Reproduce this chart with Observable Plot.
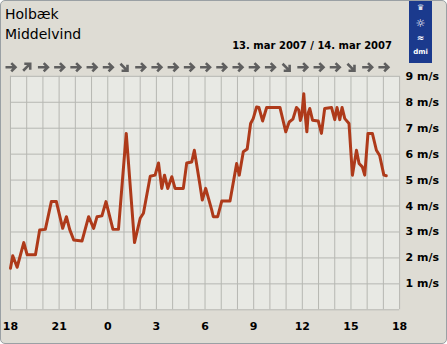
<!DOCTYPE html>
<html><head><meta charset="utf-8">
<script src="https://cdn.jsdelivr.net/npm/d3@7"></script>
<script src="https://cdn.jsdelivr.net/npm/@observablehq/plot@0.6"></script>
<style>
html,body{margin:0;padding:0;background:#ffffff;}
#card{position:relative;box-sizing:border-box;width:447px;height:344px;border:1px solid #9aa0a4;border-radius:5px;background:#dedcd4;overflow:hidden;font-family:"DejaVu Sans",Verdana,sans-serif;color:#000;}
#chart{position:absolute;left:-1px;top:-1px;}
.t{position:absolute;white-space:nowrap;}
#title1{left:4px;top:5px;font-size:14px;line-height:17px;}
#title2{left:4px;top:25px;font-size:14px;line-height:17px;}
#date{right:54px;top:39px;font-size:10px;font-weight:bold;line-height:12px;}
#logo{position:absolute;left:408px;top:-1px;width:23px;height:63px;background:#1b3a8d;color:#fff;font-weight:bold;}
#logo div{position:absolute;left:0;width:23px;text-align:center;}
</style>
</head><body>
<div id="card">
  <div id="chart"></div>
  <div class="t" id="title1">Holbæk</div>
  <div class="t" id="title2">Middelvind</div>
  <div class="t" id="date">13. mar 2007 / 14. mar 2007</div>
  <div id="logo">
    <div style="top:3px;font-size:8px;line-height:10px">♛</div>
    <div style="top:17px;font-size:11px;line-height:13px">☼</div>
    <div style="top:33px;font-size:9px;line-height:10px">≈</div>
    <div style="top:48px;font-size:7px;line-height:9px">dmi</div>
  </div>
</div>
<script>
// hours since 13 mar 18:00
const hours = [0.00,0.14,0.41,0.82,1.03,1.54,1.80,2.15,2.52,2.83,3.22,3.45,3.65,3.90,4.41,4.82,5.13,5.34,5.64,5.89,6.32,6.66,7.14,7.65,8.00,8.20,8.62,8.92,9.13,9.33,9.50,9.70,9.95,10.15,10.66,10.87,11.18,11.34,11.69,11.83,12.04,12.41,12.51,12.78,13.03,13.54,13.95,14.11,14.36,14.60,14.81,14.97,15.18,15.32,15.55,15.80,16.62,16.98,17.19,17.42,17.64,17.78,17.88,17.97,18.09,18.18,18.28,18.37,18.46,18.63,18.98,19.18,19.38,19.80,20.00,20.14,20.31,20.45,20.62,20.88,21.09,21.34,21.50,21.70,21.85,22.05,22.32,22.57,22.77,23.03,23.18];
const speed = [1.60,2.08,1.64,2.59,2.12,2.12,3.08,3.10,4.17,4.17,3.14,3.59,3.10,2.69,2.65,3.59,3.14,3.59,3.62,4.17,3.10,3.10,6.80,2.59,3.53,3.72,5.15,5.19,5.66,4.68,5.19,4.68,5.13,4.68,4.68,5.66,5.70,6.15,4.80,4.23,4.68,3.85,3.59,3.59,4.19,4.19,5.64,5.19,6.09,6.20,7.18,7.37,7.82,7.80,7.28,7.80,7.80,6.86,7.24,7.35,7.80,7.70,7.30,7.50,8.33,7.50,6.86,7.60,7.76,7.31,7.28,6.80,7.76,7.80,7.33,7.80,7.33,7.80,7.37,7.18,5.19,6.15,5.64,5.51,5.19,6.80,6.80,6.15,5.95,5.19,5.17];

// wind direction arrows, one per hour (degrees clockwise from north, pointing direction)
const dirHours = [0,1,2,3,4,5,6,7,8,9,10,11,12,13,14,15,16,17,18,19,20,21,22,23];
const dirAngle = [90,45,90,90,90,90,90,135,90,90,90,90,90,90,90,90,90,135,90,90,90,135,90,90];

const xTicks = [0,3,6,9,12,15,18,21,24];
const xTickLabels = ["18","21","0","3","6","9","12","15","18"];
const yTicks = [1,2,3,4,5,6,7,8,9];
const gridX = [0,1,2,3,4,5,6,7,8,9,10,11,12,13,14,15,16,17,18,19,20,21,22,23,24];
const gridY = [0,1,2,3,4,5,6,7,8,9];

const series = hours.map((h,i)=>({h, v: speed[i]}));
const arrows = dirHours.map((h,i)=>({h, r: dirAngle[i]}));

const fatArrow = {
  draw(ctx, l) {
    const w = l * 0.42;
    ctx.moveTo(0, 0);
    ctx.lineTo(0, -l + 1);
    ctx.moveTo(-w, w - l);
    ctx.lineTo(0, -l);
    ctx.lineTo(w, w - l);
  }
};

const chart = Plot.plot({
  width: 447, height: 344,
  marginTop: 76, marginRight: 47, marginBottom: 34, marginLeft: 10,
  style: {background: "transparent", fontFamily: "'DejaVu Sans', Verdana, sans-serif", fontSize: "11px", fontWeight: "bold", color: "#000", overflow: "visible"},
  x: {domain: [0,24], ticks: xTicks, tickFormat: d => xTickLabels[xTicks.indexOf(d)], tickSize: 0, tickPadding: 12, label: null},
  y: {domain: [0,9], axis: "right", ticks: yTicks, tickFormat: d => d + " m/s", tickSize: 0, tickPadding: 6, label: null},
  marks: [
    Plot.frame({fill: "#e8e9e4", stroke: null}),
    Plot.ruleX(gridX, {stroke: "#b6b7b2", strokeWidth: 1}),
    Plot.ruleY(gridY, {stroke: "#b6b7b2", strokeWidth: 1}),
    Plot.line(series, {x: "h", y: "v", stroke: "#ae3a1a", strokeWidth: 3, strokeLinejoin: "round", curve: "linear"}),
    Plot.vector(arrows, {x: "h", y: () => 9.35, rotate: "r", length: 10, anchor: "middle", stroke: "#5f5f5f", strokeWidth: 2.6, strokeLinecap: "butt", strokeLinejoin: "miter", shape: fatArrow})
  ]
});
document.getElementById("chart").appendChild(chart);
</script>
</body></html>
